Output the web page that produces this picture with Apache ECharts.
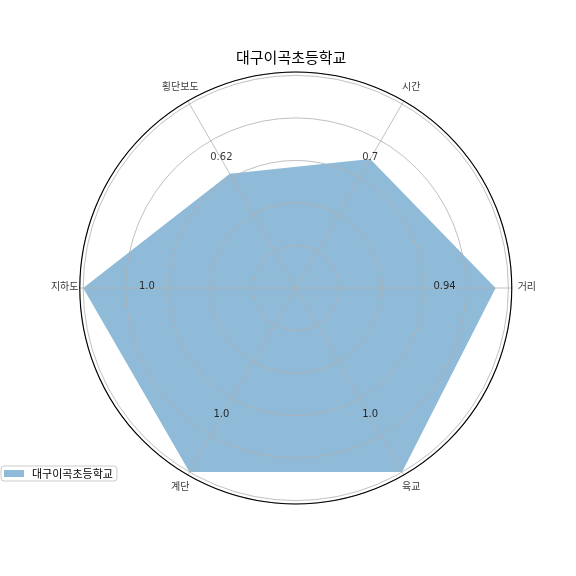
<!DOCTYPE html>
<html><head><meta charset="utf-8">
<script src="https://cdn.jsdelivr.net/npm/echarts@6/dist/echarts.min.js"></script>
<style>html,body{margin:0;padding:0;background:#fff}#c{width:576px;height:576px}</style>
</head><body><div id="c"></div>
<script>
const chartTitle = '대구이곡초등학교';
const seriesName = '대구이곡초등학교';
const categories = ['거리', '시간', '횡단보도', '지하도', '계단', '육교'];
const values = [0.94, 0.7, 0.62, 1.0, 1.0, 1.0];
const valueLabels = ['0.94', '0.7', '0.62', '1.0', '1.0', '1.0'];
const radiusTicks = [0.2, 0.4, 0.6, 0.8, 1.0];

const step = 360 / categories.length;
const angles = categories.map((_, i) => i * step);
const rMax = 1.016;
const valueLabelR = 0.7;
const catLabelR = 1.087;

const areaData = values.map((v, i) => [v, angles[i]]);
areaData.push([values[0], 360]);
const valueLabelData = values.map((v, i) => [valueLabelR, angles[i]]);
const catLabelData = categories.map((c, i) => [catLabelR, angles[i]]);

const KR = '"Noto Sans CJK KR", sans-serif';
const chart = echarts.init(document.getElementById('c'), null, {renderer: 'canvas'});
chart.setOption({
  animation: false,
  backgroundColor: '#fff',
  title: {
    text: chartTitle, left: 236, top: 50, padding: 0,
    textStyle: {fontFamily: KR, fontSize: 15, fontWeight: 'normal', color: '#000'}
  },
  legend: {
    data: [{name: seriesName, icon: 'rect'}],
    left: 1, top: 466, orient: 'vertical',
    itemWidth: 20, itemHeight: 7,
    padding: [2, 4, 2, 3],
    borderColor: '#cccccc', borderWidth: 1, borderRadius: 3,
    textStyle: {fontFamily: KR, fontSize: 11, color: '#000', padding: [0, 0, 0, 3]}
  },
  polar: {center: ['51.35%', '50%'], radius: 216},
  angleAxis: {
    type: 'value', min: 0, max: 360, interval: step,
    startAngle: 0, clockwise: false, z: 5,
    axisLine: {show: true, lineStyle: {color: '#000', width: 1.1}},
    axisTick: {show: false},
    axisLabel: {show: false},
    splitLine: {show: true, lineStyle: {color: '#b0b0b0', width: 0.8}}
  },
  radiusAxis: {
    type: 'value', min: 0, max: rMax, interval: 0.2, z: 5,
    axisLine: {show: false}, axisTick: {show: false}, axisLabel: {show: false},
    splitLine: {show: true, lineStyle: {color: '#b0b0b0', width: 0.8}}
  },
  series: [
    {
      name: seriesName, type: 'line', coordinateSystem: 'polar',
      data: areaData, symbol: 'none', z: 2,
      itemStyle: {color: '#8fbbd9'},
      lineStyle: {width: 0, color: '#8fbbd9'},
      areaStyle: {color: '#8fbbd9', opacity: 1}
    },
    {
      name: 'valueLabels', type: 'scatter', coordinateSystem: 'polar', clip: false,
      data: valueLabelData, symbolSize: 0, z: 10, silent: true,
      label: {show: true, position: 'inside', offset: [0, -2],
        formatter: p => valueLabels[p.dataIndex],
        fontFamily: 'DejaVu Sans', fontSize: 10, color: '#000'}
    },
    {
      name: 'categoryLabels', type: 'scatter', coordinateSystem: 'polar', clip: false,
      data: catLabelData, symbolSize: 0, z: 10, silent: true,
      label: {show: true, position: 'inside', offset: [0, -2],
        formatter: p => categories[p.dataIndex],
        fontFamily: KR, fontSize: 10, color: '#000'}
    }
  ]
});
</script></body></html>
